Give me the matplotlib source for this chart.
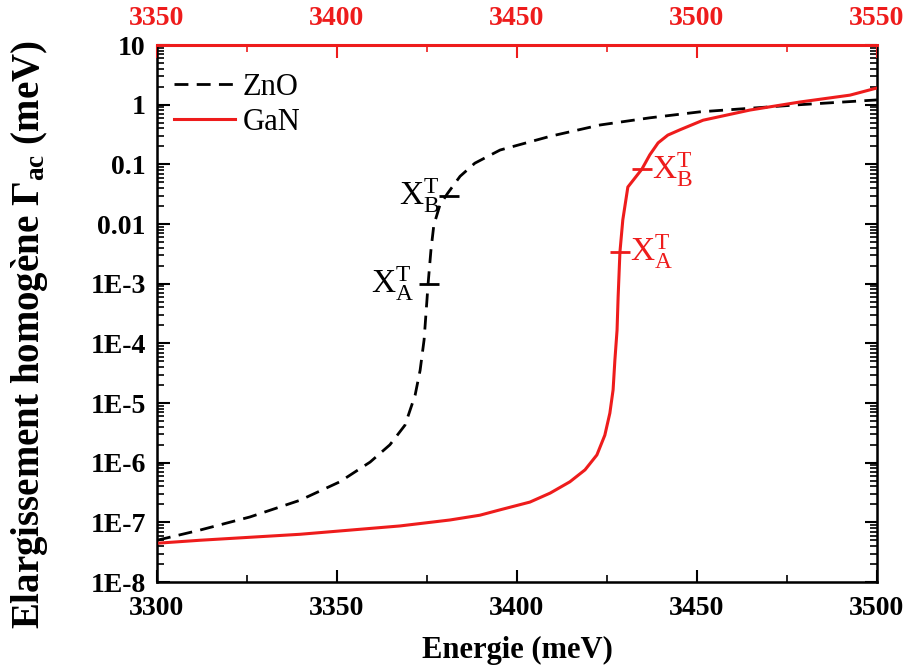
import numpy as np
import matplotlib
matplotlib.use("Agg")
from matplotlib import pyplot as plt
from matplotlib.ticker import FixedLocator, MultipleLocator, LogLocator, NullFormatter

plt.rcParams['font.family'] = ['Liberation Serif', 'DejaVu Serif']
plt.rcParams['mathtext.fontset'] = 'custom'
plt.rcParams['mathtext.rm'] = 'Liberation Serif'
plt.rcParams['mathtext.it'] = 'Liberation Serif:italic'
plt.rcParams['mathtext.bf'] = 'Liberation Serif:bold'

# ZnO, bottom energy axis (meV), log10 of the broadening (meV)
zno_energy = [3300, 3311.9, 3325.8, 3339.7, 3350.8, 3359.2, 3364.7, 3368.9, 3371.7,
              3373.1, 3374.2, 3375.0, 3375.3, 3376.1, 3376.9, 3378.6, 3380.8,
              3384.2, 3388.3, 3395.3, 3409.2, 3423.1, 3436.9, 3450.8, 3464.7,
              3478.6, 3500]
zno_log = [-7.30, -7.13, -6.91, -6.63, -6.32, -5.99, -5.70, -5.37, -4.87,
           -4.45, -3.94, -3.27, -3.01, -2.44, -2.02, -1.68, -1.48,
           -1.20, -0.98, -0.76, -0.53, -0.34, -0.22, -0.12, -0.06,
           0.0, 0.08]

# GaN, top energy axis (meV)
gan_energy = [3350, 3361.9, 3375.8, 3389.7, 3403.6, 3417.5, 3431.4, 3439.7, 3445.3,
              3453.6, 3459.2, 3464.7, 3468.9, 3472.2, 3474.4, 3475.8, 3476.7,
              3477.2, 3477.8, 3478.1, 3478.6, 3479.4, 3480.8, 3484.7, 3486.9,
              3489.2, 3491.9, 3495.3, 3501.7, 3514.7, 3528.6, 3542.5, 3550]
gan_log = [-7.35, -7.30, -7.25, -7.20, -7.13, -7.06, -6.96, -6.88, -6.79,
           -6.66, -6.51, -6.32, -6.12, -5.87, -5.54, -5.17, -4.78,
           -4.28, -3.78, -3.22, -2.47, -1.93, -1.38, -1.08, -0.84,
           -0.64, -0.51, -0.42, -0.26, -0.09, 0.045, 0.16, 0.28]

# transition markers
zno_marks_x = [3375.5, 3381]
zno_marks_y = [1e-3, 0.03]
gan_marks_x = [3478.6, 3484.7]
gan_marks_y = [0.0034, 0.083]

ytick_vals = [1e-8, 1e-7, 1e-6, 1e-5, 1e-4, 1e-3, 0.01, 0.1, 1, 10]
ytick_labels = ['1E-8', '1E-7', '1E-6', '1E-5', '1E-4', '1E-3', '0.01', '0.1', '1', '10']

red = '#ee1c1c'

fig = plt.figure(figsize=(9.1, 6.69), dpi=100)
ax = fig.add_axes([0.1725, 0.130, 0.7912, 0.8027])
ax2 = ax.twiny()

l1, = ax.plot(zno_energy, 10 ** np.array(zno_log), color='black', lw=2,
              ls=(0, (5, 3)), label='ZnO')
l2, = ax2.plot(gan_energy, 10 ** np.array(gan_log), color=red, lw=2.2, label='GaN')

ax.plot(zno_marks_x, zno_marks_y, ls='none', marker='_', ms=15, mew=2, color='black')
ax2.plot(gan_marks_x, gan_marks_y, ls='none', marker='_', ms=15, mew=2, color=red)

ax.text(3371.5, 1e-3, r'$\mathregular{X_A^T}$', fontsize=24, ha='right', va='center')
ax.text(3378.5, 0.03, r'$\mathregular{X_B^T}$', fontsize=24, ha='right', va='center')
ax2.text(3481.5, 0.0034, r'$\mathregular{X_A^T}$', fontsize=24, ha='left', va='center', color=red)
ax2.text(3487.5, 0.083, r'$\mathregular{X_B^T}$', fontsize=24, ha='left', va='center', color=red)

ax.set_yscale('log')
ax.set_ylim(1e-8, 10)
ax.set_xlim(3300, 3500)
ax2.set_xlim(3350, 3550)

ax.yaxis.set_major_locator(FixedLocator(ytick_vals))
ax.set_yticklabels(ytick_labels)
ax.yaxis.set_minor_locator(LogLocator(base=10, subs=np.arange(2, 10), numticks=20))
ax.yaxis.set_minor_formatter(NullFormatter())
ax.xaxis.set_major_locator(MultipleLocator(50))
ax.xaxis.set_minor_locator(MultipleLocator(25))
ax2.xaxis.set_major_locator(MultipleLocator(50))
ax2.xaxis.set_minor_locator(MultipleLocator(25))

ax.tick_params(axis='both', which='major', direction='in', length=9, width=1.5,
               labelsize=20, right=True, top=False)
ax.tick_params(axis='x', which='major', pad=10)
ax.tick_params(axis='y', which='major', pad=8)
ax.tick_params(axis='both', which='minor', direction='in', length=5, width=1.2,
               right=True, top=False)
ax2.tick_params(axis='x', which='major', direction='in', length=9, width=1.5,
                labelsize=20, colors=red, pad=10)
ax2.tick_params(axis='x', which='minor', direction='in', length=5, width=1.2, colors=red)
for lab in ax.get_xticklabels() + ax.get_yticklabels() + ax2.get_xticklabels():
    lab.set_fontweight('bold')

for s in ['left', 'bottom', 'right']:
    ax.spines[s].set_linewidth(1.8)
ax2.spines['top'].set_color(red)
ax2.spines['top'].set_linewidth(2.2)
ax.spines['top'].set_visible(False)

ax.set_xlabel('Energie (meV)', fontsize=22, fontweight='bold')
ax.xaxis.set_label_coords(0.5, -0.10)
ax.set_ylabel(r'Elargissement homogène $\mathbf{\Gamma_{ac}}$ (meV)',
              fontsize=28, fontweight='bold')
ax.yaxis.set_label_coords(-0.148, 0.46)

ax.legend([l1, l2], ['ZnO', 'GaN'], loc='upper left', frameon=False, fontsize=22,
          handlelength=2.0, handletextpad=0.25, labelspacing=0.2,
          bbox_to_anchor=(-0.015, 1.0))

fig.savefig('out.png', dpi=100)
